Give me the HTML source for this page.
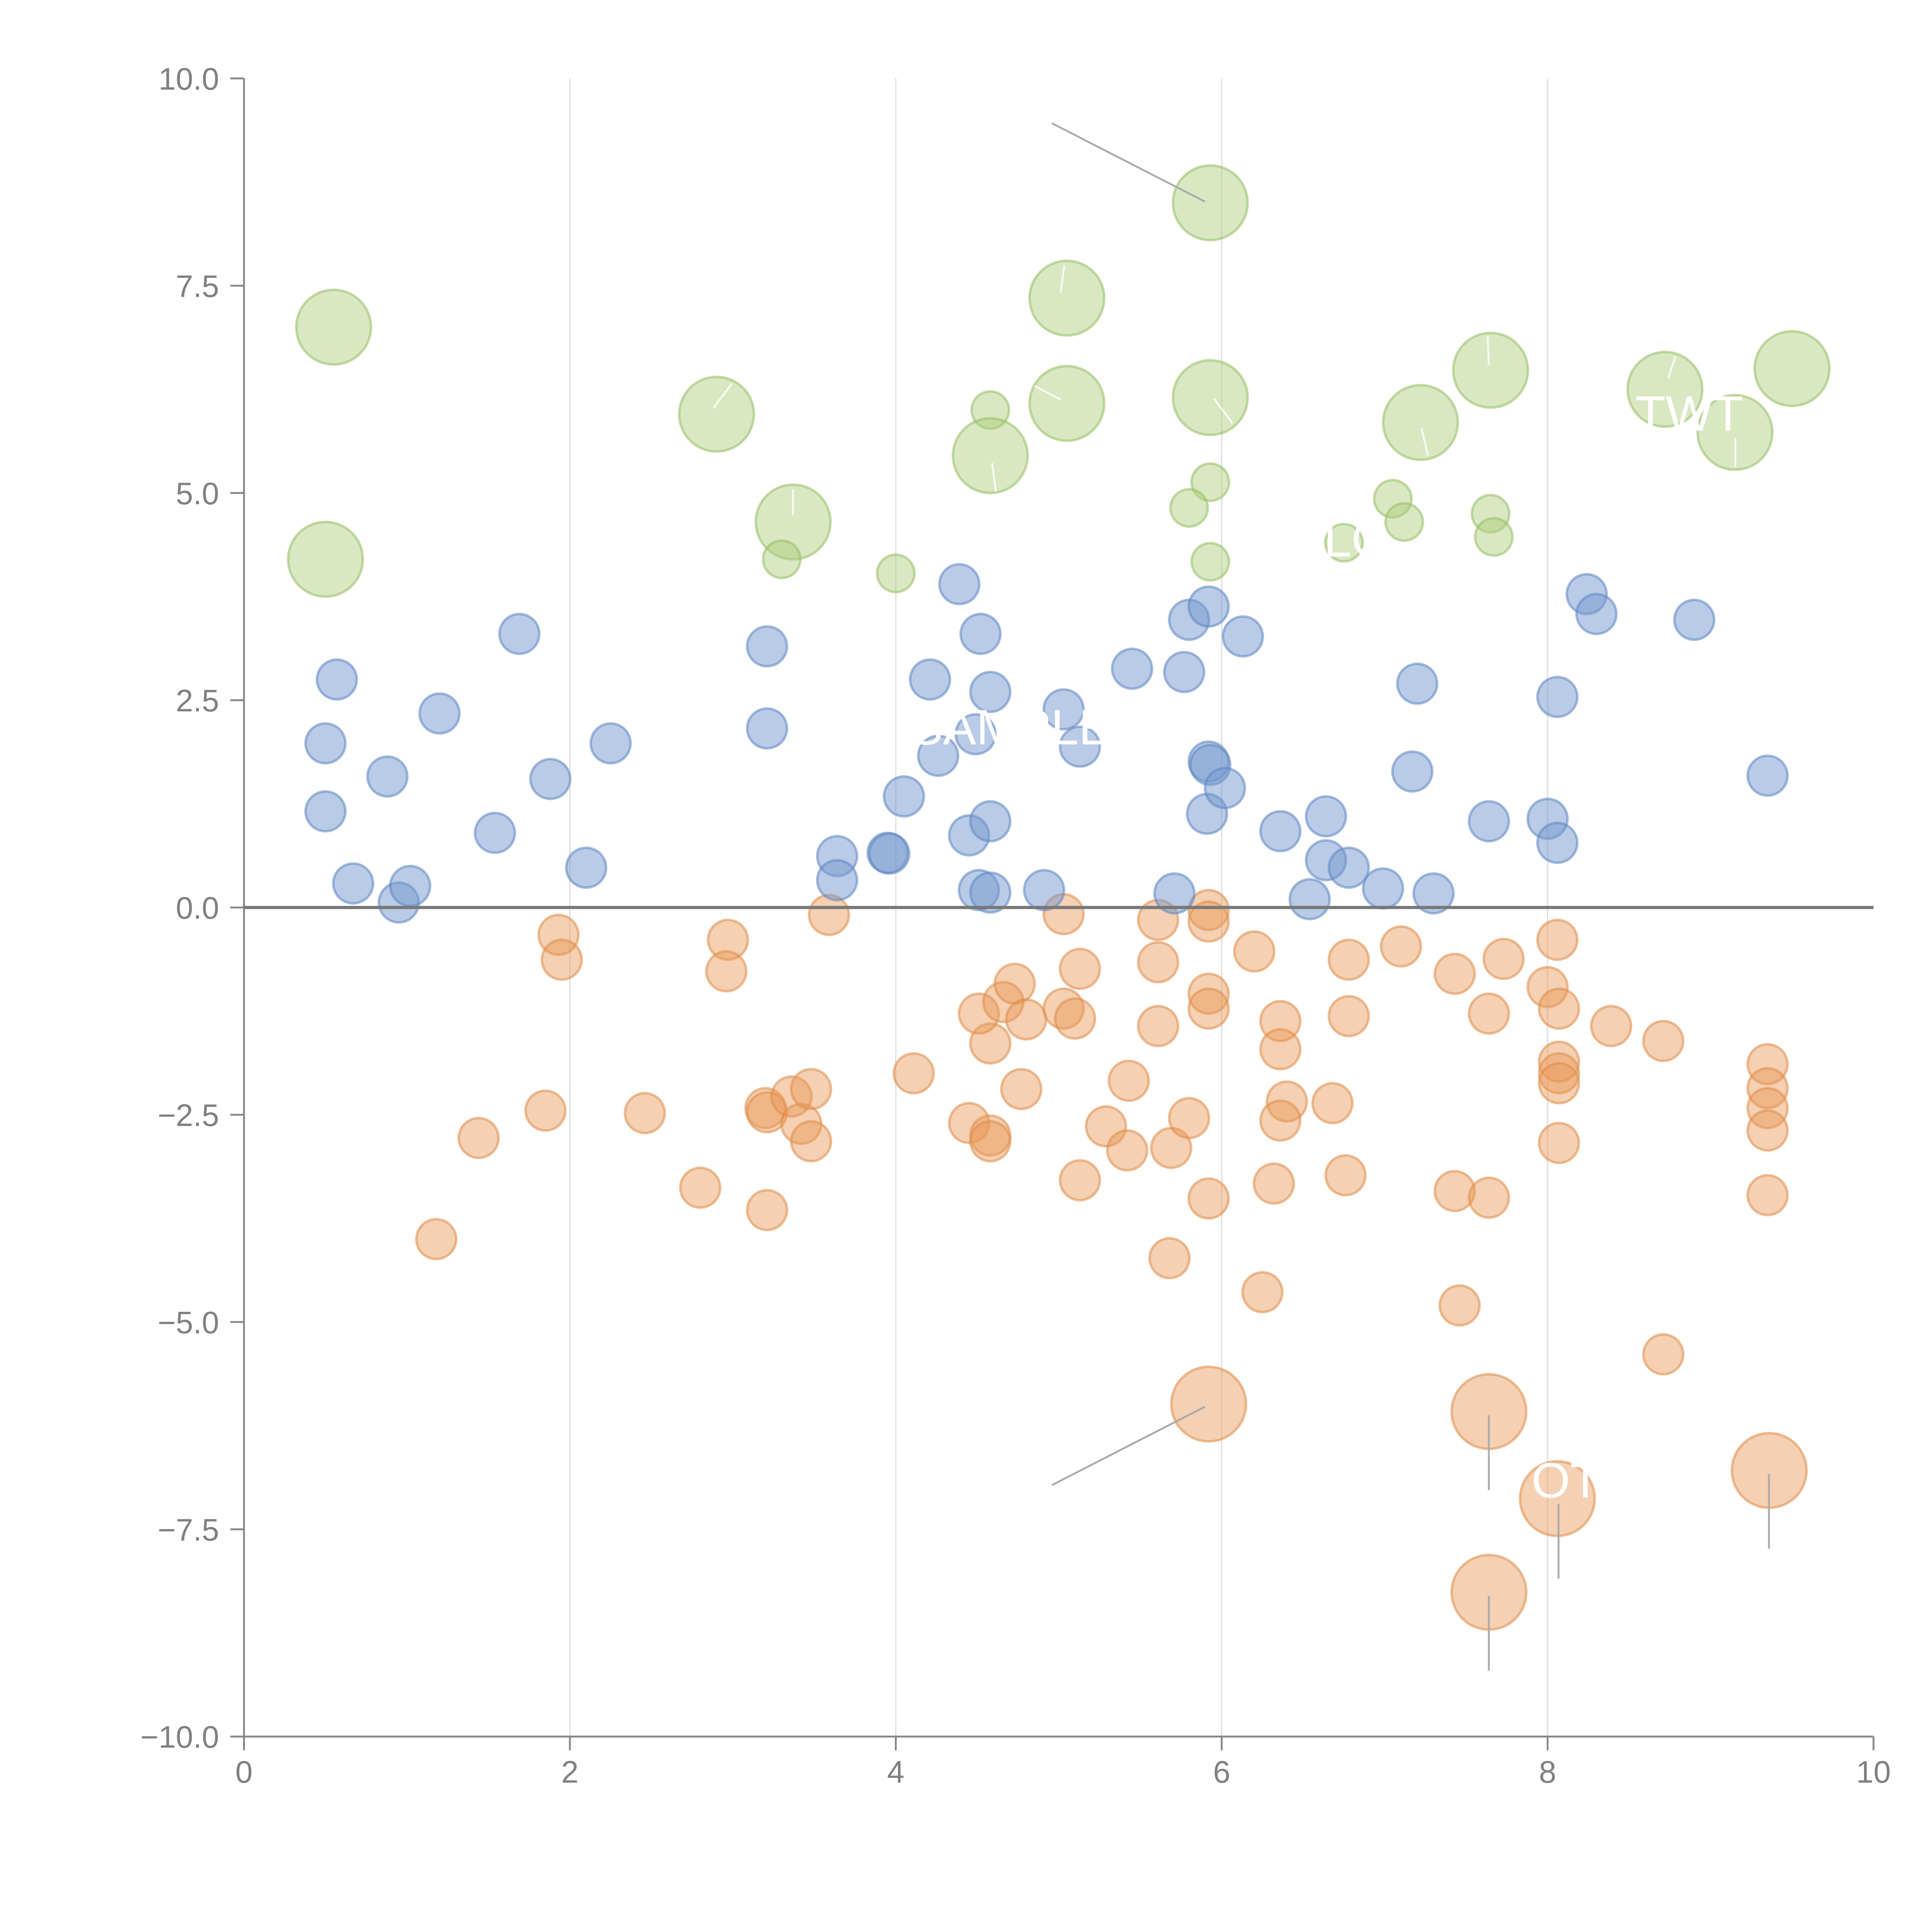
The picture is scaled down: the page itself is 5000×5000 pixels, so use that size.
<!DOCTYPE html>
<html><head><meta charset="utf-8"><style>html,body{margin:0;padding:0;background:#fff}svg{display:block}</style></head>
<body>
<svg id="chart" width="5000" height="5000" viewBox="0 0 1552 1552" xmlns="http://www.w3.org/2000/svg" font-family="Liberation Sans, sans-serif">
<g id="grid"></g>
<g id="axes"></g>
<g id="marks"></g>
<g id="annot"></g>
</svg>
<script>
const xTicks=[0,2,4,6,8,10];
const yTicks=[10,7.5,5,2.5,0,-2.5,-5,-7.5,-10];
const yTickLabels=["10.0","7.5","5.0","2.5","0.0","\u22122.5","\u22125.0","\u22127.5","\u221210.0"];
const greenX=[0.55,0.5,2.9,3.37,3.3,4.0,4.58,4.58,5.05,5.05,5.93,5.93,5.93,5.8,5.93,6.75,7.05,7.12,7.22,7.65,7.65,7.67,8.72,9.15,9.5];
const greenY=[7.0,4.2,5.95,4.65,4.2,4.03,6.0,5.45,7.35,6.08,8.5,6.15,5.13,4.82,4.17,4.4,4.93,4.65,5.85,6.48,4.75,4.47,6.25,5.73,6.5];
const greenBig=[1,1,1,1,0,0,0,1,1,1,1,1,0,0,0,0,0,0,1,1,0,0,1,1,1];
const blueX=[0.5,0.57,0.5,0.67,0.88,0.95,1.02,1.2,1.54,1.69,1.88,2.1,2.25,3.21,3.21,3.64,3.64,3.95,3.96,4.05,4.21,4.26,4.39,4.45,4.52,4.49,4.58,4.58,4.51,4.58,4.91,5.03,5.13,5.45,5.71,5.8,5.77,5.92,5.92,5.93,5.91,6.02,6.13,6.36,6.54,6.64,6.64,6.78,6.99,7.17,7.2,7.3,7.64,8.0,8.06,8.06,8.24,8.3,8.9,9.35];
const blueY=[1.98,2.75,1.16,0.29,1.58,0.06,0.26,2.34,0.9,3.3,1.55,0.48,1.98,3.15,2.16,0.62,0.33,0.66,0.65,1.34,2.75,1.83,3.9,0.87,3.3,2.09,2.6,1.04,0.21,0.18,0.21,2.39,1.94,2.88,0.17,3.47,2.84,3.63,1.76,1.72,1.13,1.44,3.27,0.92,0.1,1.1,0.57,0.48,0.23,1.64,2.7,0.17,1.04,1.07,0.78,2.54,3.78,3.54,3.47,1.59];
const orangeX=[1.93,1.95,2.97,2.96,3.59,1.85,1.44,2.46,2.8,3.2,3.21,3.36,3.42,3.48,3.48,3.21,1.18,4.11,4.45,4.58,4.58,4.58,4.51,4.66,4.73,4.8,4.77,5.03,5.03,5.1,5.13,5.13,5.29,5.43,5.42,5.61,5.61,5.61,5.69,5.8,5.68,5.92,5.92,5.92,5.92,5.92,6.2,6.36,6.36,6.4,6.36,6.32,6.25,6.68,6.78,6.78,6.76,7.1,7.43,7.43,7.46,7.64,7.64,7.73,8.0,8.06,8.07,8.07,8.07,8.07,8.07,8.39,8.71,8.71,9.35,9.35,9.35,9.35,9.35];
const orangeY=[-0.33,-0.63,-0.39,-0.77,-0.09,-2.45,-2.78,-2.48,-3.38,-2.42,-2.47,-2.28,-2.61,-2.19,-2.82,-3.65,-4.0,-2.0,-2.6,-2.75,-2.82,-1.64,-1.28,-1.14,-0.92,-1.35,-2.19,-0.08,-1.22,-1.34,-0.74,-3.29,-2.64,-2.09,-2.93,-0.15,-0.66,-1.43,-2.9,-2.54,-4.23,-0.03,-0.17,-1.04,-1.22,-3.51,-0.53,-1.37,-1.71,-2.34,-2.57,-3.33,-4.64,-2.36,-0.63,-1.31,-3.23,-0.47,-0.8,-3.42,-4.8,-1.28,-3.5,-0.62,-0.96,-0.39,-1.22,-1.86,-2.0,-2.12,-2.84,-1.43,-1.61,-5.39,-1.89,-2.18,-2.42,-2.69,-3.47];
const orangeBigX=[5.92,7.64,8.06,7.64,9.36];
const orangeBigY=[-5.99,-6.08,-7.13,-8.26,-6.79];

const X0=196,X1=1505,Y0=1395,Y1=63;
const sx=v=>X0+(v-0)/(10-0)*(X1-X0);
const sy=v=>Y0-(v+10)/20*(Y0-Y1);
const NS="http://www.w3.org/2000/svg";
function mk(tag,attrs,parent){const e=document.createElementNS(NS,tag);for(const k in attrs)e.setAttribute(k,attrs[k]);parent.appendChild(e);return e;}
const grid=document.getElementById('grid'),axes=document.getElementById('axes'),marks=document.getElementById('marks'),annot=document.getElementById('annot');

xTicks.forEach(t=>{
  if(t>0&&t<10){const g=mk('line',{x1:sx(t),x2:sx(t),y1:Y1,y2:Y0,stroke:'#dddddd','stroke-width':1},grid);
    
    }
  const tk=mk('line',{x1:sx(t),x2:sx(t),y1:Y0,y2:Y0+11,stroke:'#888','stroke-width':1.5},axes);
  
  
  const tl=mk('text',{x:sx(t),y:Y0+37,'text-anchor':'middle','font-size':25,fill:'#808080'},axes);
  tl.textContent=String(t);
  
  
});
yTicks.forEach((t,i)=>{
  const tk=mk('line',{x1:X0-11,x2:X0,y1:sy(t),y2:sy(t),stroke:'#888','stroke-width':1.5},axes);
  
  
  const tl=mk('text',{x:X0-20,y:sy(t)+9,'text-anchor':'end','font-size':25,fill:'#808080'},axes);
  tl.textContent=yTickLabels[i];
  
  
});
const ya=mk('line',{x1:X0,x2:X0,y1:Y1,y2:Y0,stroke:'#888','stroke-width':1.5},axes);


const xa=mk('line',{x1:X0,x2:X1,y1:Y0,y2:Y0,stroke:'#888','stroke-width':1.5},axes);



function dot(x,y,r,fill,stroke,name){
  const c=mk('circle',{cx:sx(x),cy:sy(y),r:r,fill:fill,stroke:stroke,'stroke-width':2},marks);
  
  
}
const OF='rgba(232,150,85,0.45)',OS='rgba(222,140,75,0.55)';
const BF='rgba(115,152,205,0.5)',BS='rgba(95,135,195,0.55)';
const GF='rgba(170,205,120,0.45)',GS='rgba(150,190,100,0.55)';
orangeX.forEach((x,i)=>dot(x,orangeY[i],16,OF,OS,'negative-point'));
orangeBigX.forEach((x,i)=>dot(x,orangeBigY[i],30,OF,OS,'negative-large-point'));
blueX.forEach((x,i)=>dot(x,blueY[i],16,BF,BS,'positive-point'));
greenX.forEach((x,i)=>dot(x,greenY[i],greenBig[i]?30:15,GF,GS,'highlight-point'));

const zl=mk('line',{x1:X0,x2:X1,y1:sy(0),y2:sy(0),stroke:'#777','stroke-width':2.5},annot);



const gl=[[845,99,968,162],[845,1193,968,1130],[1196,1137,1196,1197],[1252,1208,1252,1268],[1196,1282,1196,1342],[1421,1184,1421,1244]];
gl.forEach(l=>{const e=mk('line',{x1:l[0],y1:l[1],x2:l[2],y2:l[3],stroke:'#aaa','stroke-width':1.5},annot);
  
  });
const wl=[[855,213,852,235],[1195,270,1196,293],[573,328,588,308],[637,393,637,414],[831,310,852,321],[975,320,990,340],[797,372,800,395],[1142,344,1147,366],[1340,304,1346,286],[1394,352,1394,375]];
wl.forEach(l=>{const e=mk('line',{x1:l[0],y1:l[1],x2:l[2],y2:l[3],stroke:'rgba(255,255,255,0.8)','stroke-width':1.5},annot);
  
  });
const labels=[["SAMPLE",812,598],["TWT",1357,346],["LO",1090,447],["OT",1258,1203]];
labels.forEach(a=>{const t=mk('text',{x:a[1],y:a[2],'text-anchor':'middle','font-size':40,fill:'#fff'},annot);
  t.textContent=a[0];
  
  });
</script>
</body></html>
